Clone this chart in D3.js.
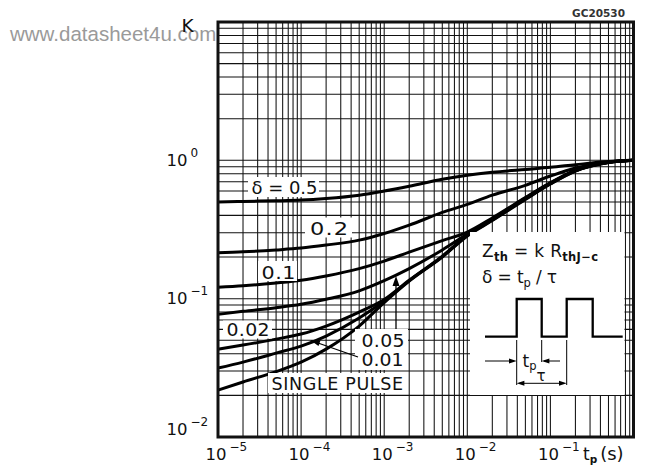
<!DOCTYPE html>
<html><head><meta charset="utf-8">
<script src="https://cdn.jsdelivr.net/npm/d3@7"></script>
<style>
body{margin:0;background:#fff}
svg text{font-family:"DejaVu Sans",Arial,sans-serif;fill:#111}
</style>
</head><body>
<svg id="c" width="645" height="476"></svg>
<script>
// ---- data ----
const tp = [1e-5,2e-5,5e-5,1e-4,2e-4,5e-4,1e-3,2e-3,5e-3,1e-2,2e-2,5e-2,0.1,0.2,0.5,1];
const kD05   = [0.50,0.505,0.51,0.516,0.53,0.56,0.60,0.65,0.73,0.78,0.82,0.86,0.89,0.93,0.98,1.0];
const kD02   = [0.215,0.218,0.225,0.232,0.244,0.265,0.296,0.34,0.42,0.48,0.56,0.66,0.77,0.88,0.97,1.0];
const kD01   = [0.121,0.124,0.130,0.136,0.146,0.165,0.187,0.217,0.263,0.303,0.383,0.538,0.69,0.85,0.97,1.0];
const kD005  = [0.077,0.081,0.086,0.091,0.099,0.114,0.135,0.165,0.225,0.293,0.376,0.534,0.685,0.84,0.967,1.0];
const kD002  = [0.0432,0.0462,0.051,0.0555,0.0634,0.080,0.0985,0.136,0.203,0.288,0.373,0.529,0.682,0.842,0.967,1.0];
const kD001  = [0.0315,0.0348,0.0404,0.0454,0.0537,0.0724,0.0961,0.135,0.2015,0.286,0.370,0.525,0.677,0.840,0.965,1.0];
const kSingle= [0.0218,0.0250,0.0297,0.0348,0.0432,0.0634,0.0937,0.134,0.200,0.284,0.367,0.521,0.674,0.837,0.964,1.0];
const seriesK = [kD05,kD02,kD01,kD005,kD002,kD001,kSingle];
const xTickVals = [1e-5,1e-4,1e-3,1e-2,1e-1];
const xTickExps = ["\u22125","\u22124","\u22123","\u22122","\u22121"];
const yTickVals = [1e-2,1e-1,1];
const yTickExps = ["\u22122","\u22121","0"];

const svg = d3.select("#c");
const L=218, R=633.5, T=22, B=437;
const x = d3.scaleLog().domain([1e-5,1]).range([L,R]);
const y = d3.scaleLog().domain([1e-2,10]).range([B,T]);

// watermark
svg.append("text").attr("x",10).attr("y",41).attr("font-size",20.5)
  .style("font-family","'Liberation Sans',Arial,sans-serif")
  .style("fill","#9a9a9a").text("www.datasheet4u.com");

// grid
const gx=[], gy=[];
for(let e=-5;e<0;e++) for(let m=1;m<10;m++) gx.push(m*Math.pow(10,e));
for(let e=-2;e<1;e++) for(let m=1;m<10;m++) gy.push(m*Math.pow(10,e));
const grid = svg.append("g").attr("stroke","#111").attr("stroke-width",1.05);
grid.selectAll(".gx").data(gx).join("line")
  .attr("x1",d=>x(d)).attr("x2",d=>x(d)).attr("y1",T).attr("y2",B);
grid.selectAll(".gy").data(gy).join("line")
  .attr("x1",L).attr("x2",R).attr("y1",d=>y(d)).attr("y2",d=>y(d));

// curves
const line = d3.line().x(d=>x(d[0])).y(d=>y(d[1])).curve(d3.curveMonotoneX);
svg.append("g").selectAll("path").data(seriesK).join("path")
  .attr("d",ks=>line(tp.map((t,i)=>[t,ks[i]])))
  .attr("fill","none").attr("stroke","#000").attr("stroke-width",3)
  .attr("stroke-linejoin","round");

// curve labels with white boxes (glyphs widened like the lettering of the original)
function wideText(tx,ty,txt,len,fs,sx){
  sx = sx||1.25;
  svg.append("text").attr("transform",`translate(${tx},${ty}) scale(${sx},1)`)
    .attr("font-size",fs||18).attr("textLength",len/sx).attr("lengthAdjust","spacing").text(txt);
}
function boxLabel(bx,by,bw,bh,tx,ty,txt,len,fs,sx){
  svg.append("rect").attr("x",bx).attr("y",by).attr("width",bw).attr("height",bh).attr("fill","#fff");
  wideText(tx,ty,txt,len,fs,sx);
}
boxLabel(248,177,71,20,251.5,193.5,"\u03b4 = 0.5",66,18,1.0);
boxLabel(305,217.5,47,20,310,235,"0.2",38,18,1.25);
boxLabel(258,261,39,20,261.5,278.5,"0.1",34,18,1.15);
boxLabel(223,320.5,49,18,226.5,336,"0.02",43,18,1.05);
boxLabel(355,329,53,41,361.5,346.5,"0.05",43,18,1.05);
wideText(361.5,366,"0.01",42,18,1.05);
boxLabel(268,373,140,20,271.5,390,"SINGLE PULSE",131.5,17.5,1.0);

// arrows
svg.append("line").attr("x1",396).attr("x2",396).attr("y1",329).attr("y2",284)
  .attr("stroke","#000").attr("stroke-width",1.3);
svg.append("path").attr("d","M396,276 L392.5,286 L399.5,286 Z").attr("fill","#000");
svg.append("line").attr("x1",358).attr("y1",357).attr("x2",318).attr("y2",343)
  .attr("stroke","#000").attr("stroke-width",1.3);
svg.append("path").attr("d","M310,340 L320.5,340.5 L318.5,346 Z").attr("fill","#000");

// inset
const ins = svg.append("g").attr("transform","translate(470,232)");
ins.append("rect").attr("x",0).attr("y",0).attr("width",154.5).attr("height",163).attr("fill","#fff");
const t1 = ins.append("text").attr("x",12).attr("y",25).attr("font-size",17)
  .attr("textLength",116).attr("lengthAdjust","spacing");
t1.append("tspan").text("Z");
t1.append("tspan").attr("font-size",11.5).attr("dy",4).attr("font-weight","bold").text("th");
t1.append("tspan").attr("dy",-4).text(" = k R");
t1.append("tspan").attr("font-size",11.5).attr("dy",4).attr("font-weight","bold").text("thJ\u2212c");
const t2 = ins.append("text").attr("x",12).attr("y",51).attr("font-size",17)
  .attr("textLength",75).attr("lengthAdjust","spacing");
t2.append("tspan").text("\u03b4 = t");
t2.append("tspan").attr("font-size",11.5).attr("dy",4).text("p");
t2.append("tspan").attr("dy",-4).text(" / \u03c4");
ins.append("path").attr("d","M15,104.7 H46.7 V67 H71.7 V104.7 H96.7 V67 H122.7 V104.7 H152.7")
  .attr("fill","none").attr("stroke","#000").attr("stroke-width",2.3);
const dim = ins.append("g").attr("stroke","#000").attr("stroke-width",1);
[[46.7,108,153],[71.7,108,130],[96.7,108,153]].forEach(v=>
  dim.append("line").attr("x1",v[0]).attr("x2",v[0]).attr("y1",v[1]).attr("y2",v[2]));
dim.append("line").attr("x1",15).attr("x2",44).attr("y1",129).attr("y2",129);
dim.append("line").attr("x1",74).attr("x2",90).attr("y1",129).attr("y2",129);
dim.append("line").attr("x1",49).attr("x2",94).attr("y1",151.3).attr("y2",151.3);
const ah = ins.append("g").attr("fill","#000");
ah.append("path").attr("d","M46.7,129 L39,126.5 L39,131.5 Z");
ah.append("path").attr("d","M71.7,129 L79.4,126.5 L79.4,131.5 Z");
ah.append("path").attr("d","M46.7,151.3 L54.4,148.8 L54.4,153.8 Z");
ah.append("path").attr("d","M96.7,151.3 L89,148.8 L89,153.8 Z");
const t3 = ins.append("text").attr("x",52.5).attr("y",134.5).attr("font-size",17);
t3.append("tspan").text("t");
t3.append("tspan").attr("font-size",11.5).attr("dy",3).text("p");
ins.append("text").attr("x",66.5).attr("y",149).attr("font-size",15).text("\u03c4");

// frame
svg.append("rect").attr("x",L).attr("y",T).attr("width",R-L).attr("height",B-T)
  .attr("fill","none").attr("stroke","#111").attr("stroke-width",3);

// axis labels
xTickVals.forEach((v,i)=>{
  const tx = svg.append("text").attr("x",x(v)-12.5).attr("y",460).attr("font-size",16.5);
  tx.append("tspan").text("10");
  tx.append("tspan").attr("font-size",12).attr("dx",3).attr("dy",-9).text(xTickExps[i]);
});
const xl = svg.append("text").attr("x",583).attr("y",460).attr("font-size",17);
xl.append("tspan").text("t");
xl.append("tspan").attr("font-size",10.5).attr("dy",3).attr("font-weight","bold").text("p");
xl.append("tspan").attr("dy",-3).attr("dx",3).attr("font-size",18).text("(s)");
yTickVals.forEach((v,i)=>{
  const dy = v===1e-2 ? -2 : 5.5;
  const ty = svg.append("text").attr("x",166.5).attr("y",y(v)+dy).attr("font-size",16.5);
  ty.append("tspan").text("10");
  ty.append("tspan").attr("font-size",12).attr("dx",3).attr("dy",-9).text(yTickExps[i]);
});
svg.append("text").attr("x",181.5).attr("y",31.5).attr("font-size",18.5).text("K");
svg.append("text").attr("x",572).attr("y",17).attr("font-size",10.5).attr("font-weight","bold")
  .attr("textLength",53).attr("lengthAdjust","spacing").style("fill","#333").text("GC20530");
</script>
</body></html>
